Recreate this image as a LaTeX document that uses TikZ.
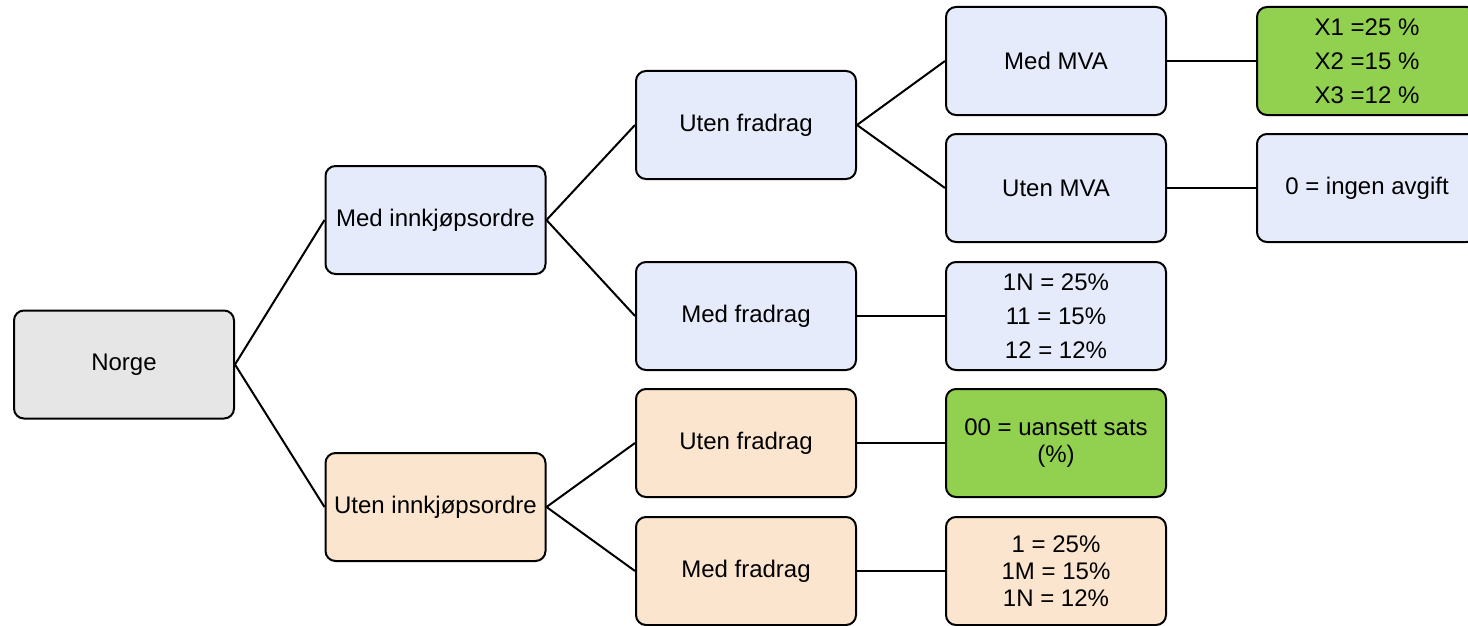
\documentclass[tikz,border=0pt]{standalone}
\usepackage{fontspec}
\setmainfont{Liberation Sans}
\definecolor{grayfill}{RGB}{230,230,230}
\definecolor{bluefill}{RGB}{230,235,251}
\definecolor{peachfill}{RGB}{251,229,206}
\definecolor{greenfill}{RGB}{146,208,80}
\begin{document}
\begin{tikzpicture}[x=1pt,y=-1pt,
  box/.style={draw=black,line width=2pt,rounded corners=10pt,minimum width=220pt,minimum height=108pt,
    align=center,inner sep=0pt,font=\fontsize{24}{27}\selectfont},
  wide/.style={font=\fontsize{24}{34}\selectfont},
  gray/.style={box,fill=grayfill},
  blue/.style={box,fill=bluefill},
  peach/.style={box,fill=peachfill},
  green/.style={box,fill=greenfill},
  conn/.style={line width=2pt}]
\useasboundingbox (0,0) rectangle (1468,626);
\clip (0,0) rectangle (1468,626);
\node[gray] (norge) at (124,364.5) {Norge};
\node[blue] (mi) at (435.5,220) {Med innkjøpsordre};
\node[peach] (ui) at (435.5,507) {Uten innkjøpsordre};
\node[blue] (uf1) at (746,125) {Uten fradrag};
\node[blue] (mf1) at (746,316) {Med fradrag};
\node[peach] (uf2) at (746,443) {Uten fradrag};
\node[peach] (mf2) at (746,571) {Med fradrag};
\node[blue] (mmva) at (1056,61) {Med MVA};
\node[blue] (umva) at (1056,188) {Uten MVA};
\node[blue,wide] (r1n) at (1056,316) {1N = 25\%\\11 = 15\%\\12 = 12\%};
\node[green] (r00) at (1056,443) {00 = uansett sats\\(\%)};
\node[peach] (r1) at (1056,571) {1 = 25\%\\1M = 15\%\\1N = 12\%};
\node[green,wide] (rx) at (1367,61) {X1 =25 \%\\X2 =15 \%\\X3 =12 \%};
\node[blue] (r0) at (1367,188) {0 = ingen avgift};
\draw[conn] (norge.east) -- (mi.west);
\draw[conn] (norge.east) -- (ui.west);
\draw[conn] (mi.east) -- (uf1.west);
\draw[conn] (mi.east) -- (mf1.west);
\draw[conn] (ui.east) -- (uf2.west);
\draw[conn] (ui.east) -- (mf2.west);
\draw[conn] (uf1.east) -- (mmva.west);
\draw[conn] (uf1.east) -- (umva.west);
\draw[conn] (mf1.east) -- (r1n.west);
\draw[conn] (uf2.east) -- (r00.west);
\draw[conn] (mf2.east) -- (r1.west);
\draw[conn] (mmva.east) -- (rx.west);
\draw[conn] (umva.east) -- (r0.west);
\end{tikzpicture}
\end{document}
